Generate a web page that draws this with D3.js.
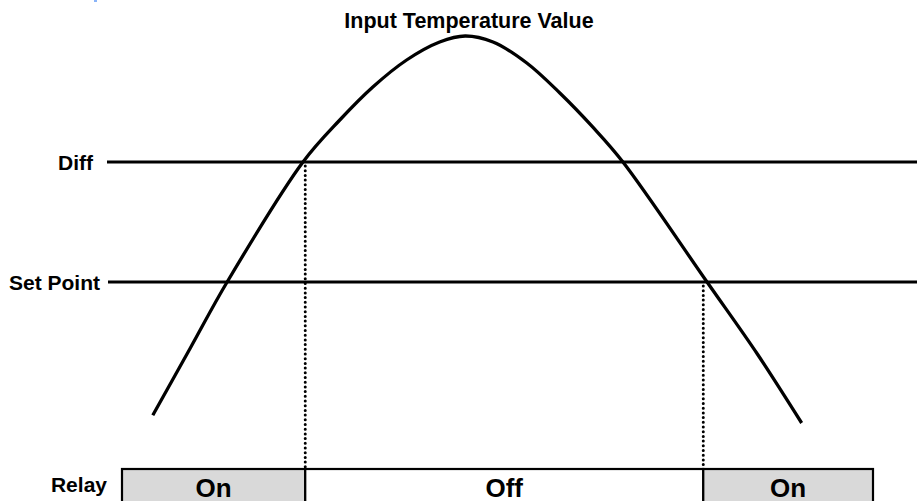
<!DOCTYPE html>
<html>
<head>
    <title>Relay Diff</title>
    <script src="https://d3js.org/d3.v7.min.js"></script>
    <style>
        body { margin: 0; background: #fff; }
        svg text {
            font-family: Arial, "Liberation Sans", sans-serif;
            font-weight: bold;
            fill: #000;
        }
    </style>
</head>
<body>
    <svg></svg>
    <script>
        // Data (time in %, temperature in degrees)
        var times = [4.1, 9.1, 14.0, 24.1, 29.0, 33.4, 37.9, 42.3, 45.7, 49.4, 53.9, 58.3, 62.7, 66.7, 77.9, 84.6, 90.5];
        var temps = [17.78, 18.9, 20.0, 22.0, 22.7, 23.25, 23.7, 24.0, 24.1, 24.0, 23.65, 23.15, 22.58, 22.0, 20.0, 18.8, 17.65];

        var setPoint = 20;
        var diff = 22;
        var levelLabels = ["Diff", "Set Point"];

        var relayStates = ["On", "Off", "On"];
        var relayStart = [0, 24.4, 77.4];
        var relayEnd = [24.4, 77.4, 100];

        var width = 917, height = 501;

        var svg = d3.select("svg")
            .attr("width", width)
            .attr("height", height);

        // scales
        var x = d3.scaleLinear().domain([0, 100]).range([122, 873]);
        var y = d3.scaleLinear().domain([20, 22]).range([282, 162]);

        // stray blue mark in the top corner
        svg.append("rect")
            .attr("x", 94).attr("y", 0)
            .attr("width", 3).attr("height", 2)
            .attr("fill", "#8ab4f8");

        // title
        svg.append("text")
            .attr("x", 469)
            .attr("y", 28)
            .attr("text-anchor", "middle")
            .style("font-size", "21.5px")
            .text("Input Temperature Value");

        // Diff and Set Point lines
        var levels = [diff, setPoint];
        var lineStart = [107, 108];
        var labelEnd = [93, 100];

        svg.selectAll(".level")
            .data(levels)
            .enter()
            .append("line")
            .attr("class", "level")
            .attr("x1", function (d, i) { return lineStart[i]; })
            .attr("x2", width)
            .attr("y1", function (d) { return y(d); })
            .attr("y2", function (d) { return y(d); })
            .attr("stroke", "#000")
            .attr("stroke-width", 3);

        svg.selectAll(".levelLabel")
            .data(levels)
            .enter()
            .append("text")
            .attr("class", "levelLabel")
            .attr("x", function (d, i) { return labelEnd[i]; })
            .attr("y", function (d) { return y(d) + 7.5; })
            .attr("text-anchor", "end")
            .style("font-size", "21px")
            .text(function (d, i) { return levelLabels[i]; });

        // temperature curve
        var pts = times.map(function (t, i) { return [t, temps[i]]; });
        var line = d3.line()
            .x(function (d) { return x(d[0]); })
            .y(function (d) { return y(d[1]); })
            .curve(d3.curveCatmullRom);

        svg.append("path")
            .datum(pts)
            .attr("d", line)
            .attr("fill", "none")
            .attr("stroke", "#000")
            .attr("stroke-width", 3.3);

        // relay bar
        var boxTop = 469;

        // dotted switch lines (off at Diff, on at Set Point)
        var switchTimes = [relayStart[1], relayStart[2]];
        var switchLevels = [diff, setPoint];
        svg.selectAll(".switch")
            .data(switchTimes)
            .enter()
            .append("line")
            .attr("class", "switch")
            .attr("x1", function (d) { return x(d); })
            .attr("x2", function (d) { return x(d); })
            .attr("y1", function (d, i) { return y(switchLevels[i]) + 4; })
            .attr("y2", boxTop)
            .attr("stroke", "#000")
            .attr("stroke-width", 3)
            .attr("stroke-linecap", "round")
            .attr("stroke-dasharray", "0 4.7");

        var seg = svg.selectAll(".seg")
            .data(relayStates)
            .enter()
            .append("g")
            .attr("class", "seg");

        seg.append("rect")
            .attr("x", function (d, i) { return x(relayStart[i]); })
            .attr("y", boxTop)
            .attr("width", function (d, i) { return x(relayEnd[i]) - x(relayStart[i]); })
            .attr("height", 50)
            .attr("fill", function (d) { return d === "On" ? "#d9d9d9" : "#fff"; })
            .attr("stroke", "#000")
            .attr("stroke-width", 2.2);

        // state labels run off the bottom edge, as in the original
        seg.append("text")
            .attr("x", function (d, i) { return (x(relayStart[i]) + x(relayEnd[i])) / 2; })
            .attr("y", 497)
            .attr("text-anchor", "middle")
            .style("font-size", "26px")
            .text(function (d) { return d; });

        svg.append("text")
            .attr("x", 107)
            .attr("y", 492)
            .attr("text-anchor", "end")
            .style("font-size", "21px")
            .text("Relay");
    </script>
</body>
</html>
